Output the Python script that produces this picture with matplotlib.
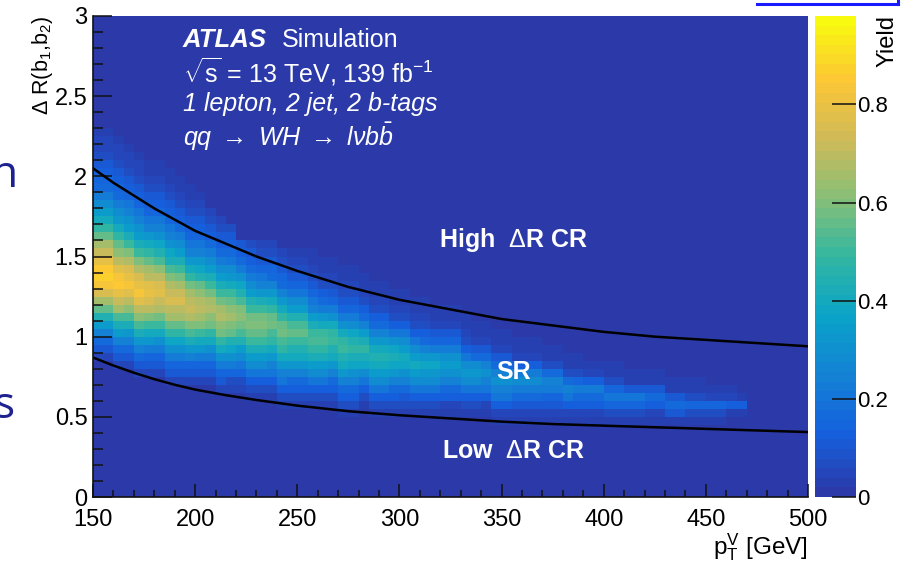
import matplotlib.pyplot as plt
import numpy as np
from matplotlib.colors import LinearSegmentedColormap, Normalize
from matplotlib.lines import Line2D

plt.rcParams["font.family"] = ["Liberation Sans", "DejaVu Sans"]
plt.rcParams["mathtext.fontset"] = "custom"
plt.rcParams["mathtext.rm"] = "Liberation Sans"
plt.rcParams["mathtext.it"] = "Liberation Sans:italic"
plt.rcParams["mathtext.bf"] = "Liberation Sans:bold"

W, H = 906, 563

# histogram binning: 5 GeV in pT(V), 0.05 in dR(b1,b2)
pt_edges = np.arange(150, 505, 5)
dr_edges = np.linspace(0.0, 3.0, 61)

# one string per pT bin (150-155, 155-160, ...), one char per dR bin from dR = 0.40 upward,
# each char is the yield in units of 0.025 written in base 36
YIELD_STEP = 0.025
FIRST_DR_BIN = 8
yield_columns = [
    "000000000247aeimquxzywtqmjgeb976543221",
    "000000000247aeimquxzywtqmjgeb976543221",
    "00000000247aehlqtwyxvspmjgdb976543221",
    "00000000247adhlpsvxwurokheca86543221",
    "0000000247adhlpsvxwurokheca86543221",
    "00000002469dgkosuwvsqmjgda86543211",
    "00000002469cgknrtvusplifca86543211",
    "0000002469cfjmqsutrolhfca86543211",
    "0000002469cfjmqsutqnkheb97543211",
    "000000246adhlortsqnjgda86543211",
    "0000002469dgkoqsrpmifda8654321",
    "0000002469cgjnprqnkheb975432",
    "000002469cgjnprqnkheb975432",
    "000002369cfimoqpmkgdb87543",
    "000002368beilnpolifc9754",
    "00001358behkmonkieb97543",
    "00001358behkmonkhda86432",
    "00001358adgjlnmjgda76432",
    "0001358adgjlnmjgda76432",
    "0001357adgikmlieb864321",
    "0001357adgikmlieb864321",
    "0001358behjlkhea8643211",
    "0001358behjlkgd9753211",
    "0001357adgikjgc9643211",
    "001357adgikjgc9643211",
    "001357acfhjifb9643211",
    "0001358bfhjhea753211",
    "001358begigda753211",
    "001358begigda753211",
    "001357adfhfc853211",
    "001347acfgeb853211",
    "001358begeb853211",
    "001358bdfda753211",
    "001358bdfd964211",
    "001257acec964211",
    "001257acec964211",
    "001358bdb853211",
    "001358bdb74211",
    "001258aca74211",
    "01258aca74211",
    "01258aca74211",
    "012479b95211",
    "012479b95211",
    "012479b95211",
    "012469a7311",
    "012469a7311",
    "01258a7311",
    "0125796311",
    "012579521",
    "012579521",
    "013686311",
    "013686311",
    "01368411",
    "01368411",
    "01257411",
    "01257411",
    "0147411",
    "0147411",
    "0136311",
    "0136311",
    "013621",
    "013621",
    "001521",
    "00151",
    "", "", "", "", "", "",
]

# dR selection boundaries read along pT(V)
cut_pt = [150, 160, 170, 180, 190, 200, 215, 230, 250, 275, 300, 325, 350, 375, 400, 425, 450, 475, 500]
cut_high = [2.05, 1.96, 1.88, 1.80, 1.73, 1.66, 1.58, 1.50, 1.41, 1.31, 1.23, 1.17, 1.11, 1.07,
            1.03, 1.00, 0.98, 0.96, 0.94]
cut_low = [0.87, 0.82, 0.775, 0.735, 0.70, 0.67, 0.635, 0.605, 0.57, 0.535, 0.51, 0.49, 0.47, 0.455,
           0.445, 0.435, 0.425, 0.415, 0.405]

z_max = 0.98
cbar_ticks = [0, 0.2, 0.4, 0.6, 0.8]

region_labels = [
    (356, 1.60, r"High  $\Delta$R CR"),
    (356, 0.78, "SR"),
    (356, 0.29, r"Low  $\Delta$R CR"),
]

z = np.zeros((len(dr_edges) - 1, len(pt_edges) - 1))
for i, col in enumerate(yield_columns):
    for k, ch in enumerate(col):
        z[FIRST_DR_BIN + k, i] = int(ch, 36) * YIELD_STEP

bird = LinearSegmentedColormap.from_list(
    "bird",
    [(0.0, "#2b3aa8"), (0.125, "#1560de"), (0.25, "#1482d4"), (0.375, "#0aa4c8"),
     (0.5, "#33b7a2"), (0.625, "#88bf77"), (0.75, "#d0bb58"), (0.875, "#fcc734"),
     (1.0, "#f8fa0f")],
    N=50,
)

fig = plt.figure(figsize=(W / 100, H / 100), dpi=100)
ax = fig.add_axes([93 / W, 1 - 497 / H, 715 / W, 481 / H])
cax = fig.add_axes([815 / W, 1 - 497 / H, 41 / W, 481 / H])

mesh = ax.pcolormesh(pt_edges, dr_edges, z, cmap=bird, norm=Normalize(0, z_max),
                     edgecolors="face", linewidth=0)
ax.plot(cut_pt, cut_high, color="black", lw=1.8)
ax.plot(cut_pt, cut_low, color="black", lw=1.8)

ax.set_xlim(150, 500)
ax.set_ylim(0, 3)
ax.set_xticks(np.arange(150, 501, 50))
ax.set_xticks(np.arange(150, 501, 10), minor=True)
ax.set_yticks([0, 0.5, 1, 1.5, 2, 2.5, 3])
ax.set_yticklabels(["0", "0.5", "1", "1.5", "2", "2.5", "3"])
ax.set_yticks(np.arange(0, 3.01, 0.1), minor=True)
ax.tick_params(which="both", direction="in", top=False, right=False, width=1.1, color="#111111",
               labelsize=17)
ax.tick_params(axis="x", which="major", length=9.5, pad=9)
ax.tick_params(axis="x", which="minor", length=4.7)
ax.tick_params(axis="y", which="major", length=14, pad=4)
ax.tick_params(axis="y", which="minor", length=7)
for side in ("top", "right"):
    ax.spines[side].set_visible(False)
for side in ("left", "bottom"):
    ax.spines[side].set_linewidth(1.2)
    ax.spines[side].set_color("#111111")

ax.set_xlabel(r"p$_{\mathrm{T}}^{\mathrm{V}}$ [GeV]", fontsize=17.5, loc="right")
ax.xaxis.set_label_coords(1.0, -0.071)
ax.set_ylabel(r"$\Delta$ R(b$_{1}$,b$_{2}$)", fontsize=15.5, loc="top")
ax.yaxis.set_label_coords(-0.053, 1.0)

ax.text(194, 2.85, "ATLAS", color="white", fontsize=18.5, va="center", fontweight="bold",
        style="italic")
ax.text(242.5, 2.85, "Simulation", color="white", fontsize=18, va="center")
ax.text(194, 2.65, r"$\sqrt{\mathrm{s}}$ = 13 TeV, 139 fb$^{\mathrm{-1}}$", color="white",
        fontsize=18, va="center")
ax.text(194, 2.45, "1 lepton, 2 jet, 2 b-tags", color="white", fontsize=18, va="center",
        style="italic")
ax.text(194, 2.25, r"$qq\ \rightarrow\ WH\ \rightarrow\ l\nu b\bar{b}$", color="white",
        fontsize=18, va="center")
for x, y, s in region_labels:
    ax.text(x, y, s, color="white", fontsize=18, fontweight="bold", ha="center", va="center")

cb = fig.colorbar(mesh, cax=cax, ticks=cbar_ticks)
cb.outline.set_visible(False)
cb.ax.set_yticklabels(["0", "0.2", "0.4", "0.6", "0.8"])
cb.ax.tick_params(direction="in", length=17, width=1.1, labelsize=16, pad=1, color="#111111")
fig.text(898 / W, 1 - 15 / H, "Yield", rotation=90, fontsize=17, ha="right", va="top")

# slide text cut off at the left edge, and the link box edge at the top right
fig.text(-10 / W, 1 - 187 / H, "n", fontsize=32, color="#1e2290", family="Open Sans")
fig.text(-6 / W, 1 - 418 / H, "s", fontsize=32, color="#1e2290", family="Open Sans")
fig.add_artist(Line2D([757 / W, 898 / W], [1 - 4 / H, 1 - 4 / H], color="#1a1aff", lw=2.2,
                      transform=fig.transFigure))
fig.add_artist(Line2D([898 / W, 898 / W], [1 - 4 / H, 1.0], color="#1a1aff", lw=2.2,
                      transform=fig.transFigure))

fig.savefig("out.png", dpi=100)
